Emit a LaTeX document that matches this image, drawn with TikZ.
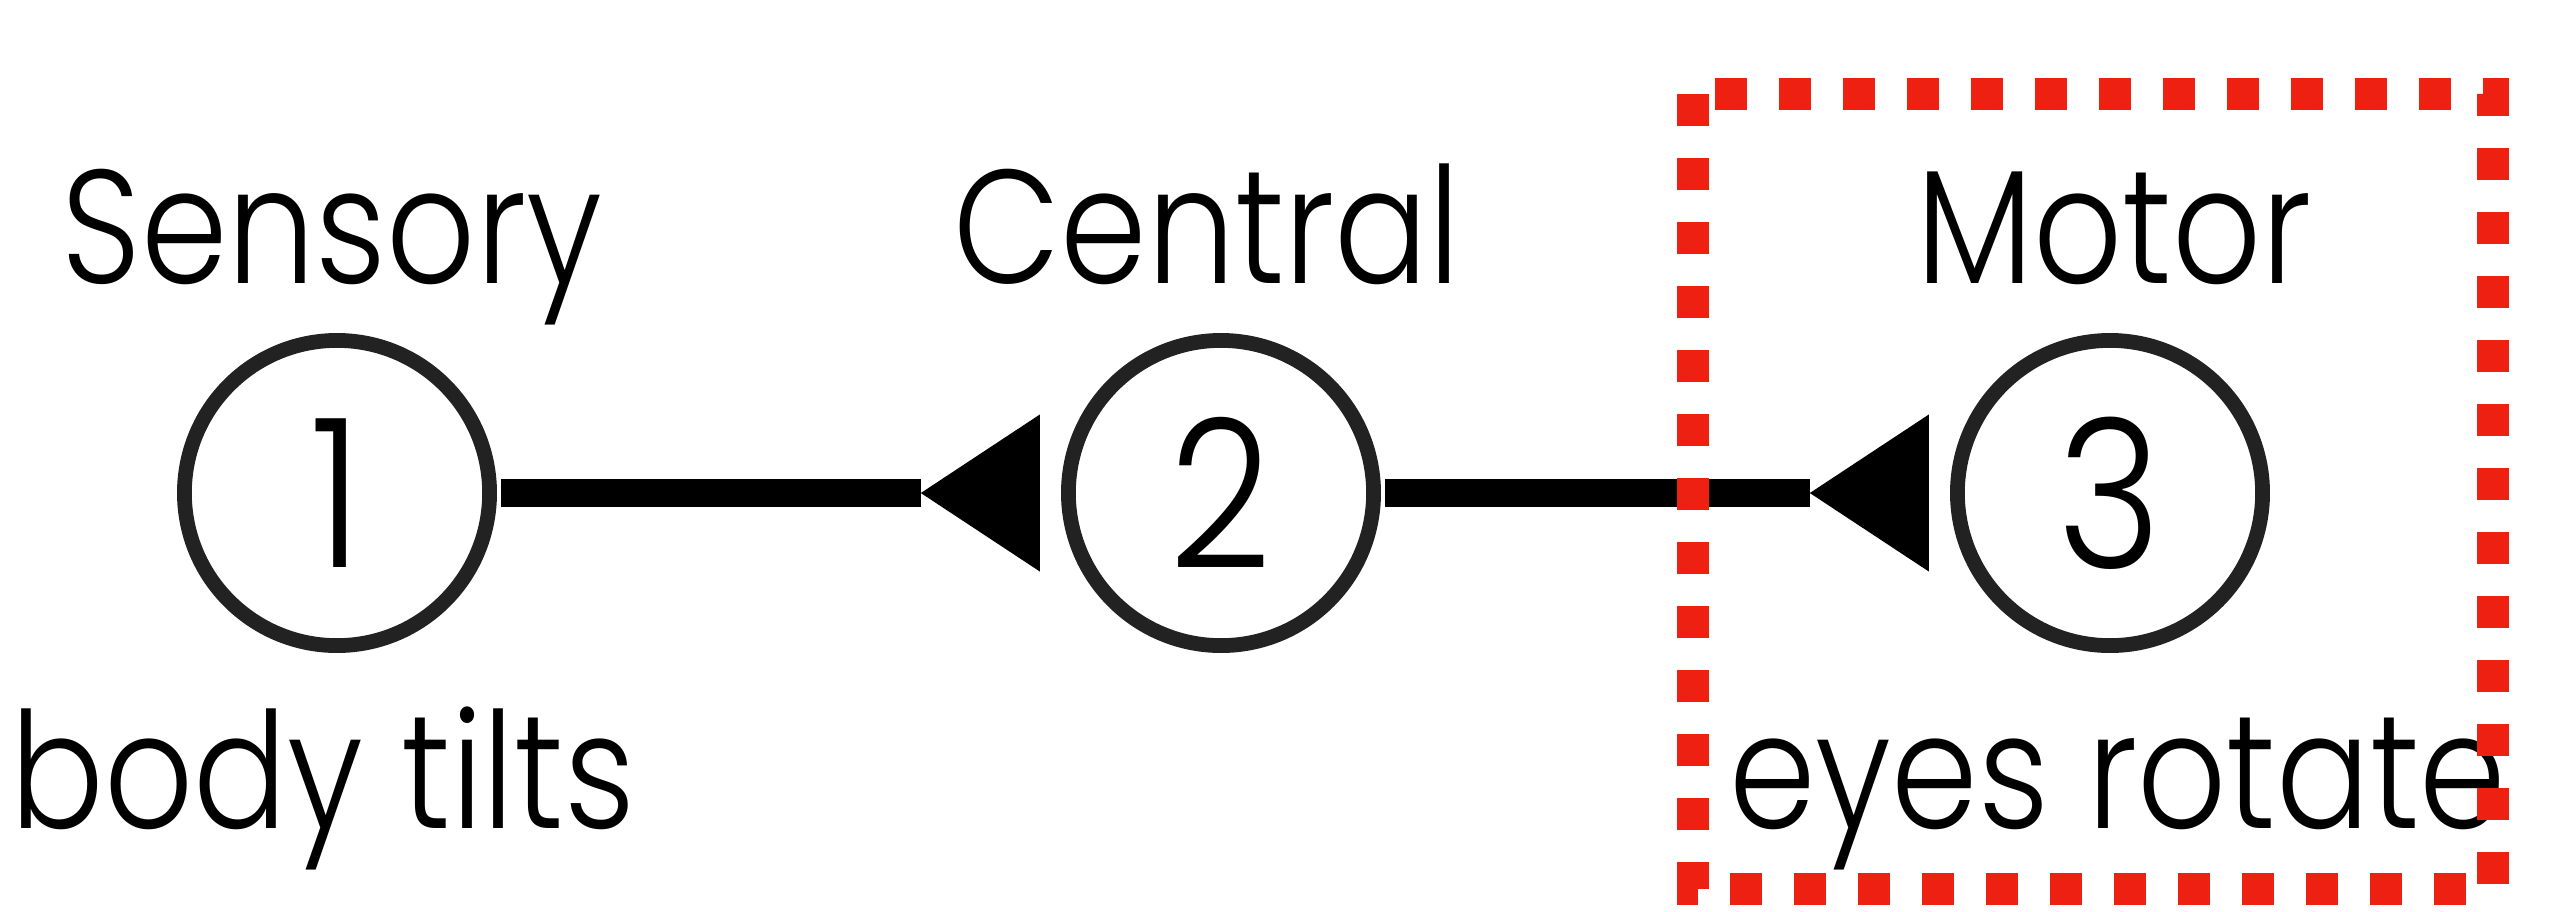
\documentclass[tikz,border=0pt]{standalone}
\usepackage{fontspec}
\setmainfont{Poppins}[UprightFont={* Light}, FakeStretch=0.86]
\usetikzlibrary{arrows.meta}
\definecolor{boxred}{RGB}{237,32,18}
\definecolor{ring}{RGB}{34,34,34}
\begin{document}
\begin{tikzpicture}[x=0.01cm,y=-0.01cm,
  stage/.style={circle, draw=ring, line width=4.2pt, minimum size=3.05cm,
    inner sep=0pt, outer sep=0pt, font=\fontsize{59}{60}\selectfont},
  tag/.style={anchor=base, inner sep=0pt, font=\fontsize{46}{50}\selectfont},
  link/.style={line width=8pt, shorten <=0.11cm, shorten >=0.285cm,
    -{Triangle[reversed, length=1.19cm, width=1.57cm, line width=0pt]}},
  zone/.style={draw=boxred, line width=9.1pt, dash pattern=on 9.1pt off 9.1pt}
]
\useasboundingbox (0,0) rectangle (2550,911);
\fill[white] (0,0) rectangle (2550,911);

% the three stages of the reflex arc
\node[stage] (s1) at (337,493) {1};
\node[stage] (s2) at (1221,493) {2};
\node[stage] (s3) at (2110,493) {3};

\draw[link] (s1) -- (s2);
\draw[link] (s2) -- (s3);

% stage names and events
\node[tag] (n1) at (332,283) {Sensory};
\node[tag] (n2) at (1207,283) {Central};
\node[tag] (n3) at (2114,283) {Motor};
\node[tag] (e1) at (323,828) {body tilts};
\node[tag] (e3) at (2118,828) {eyes rotate};

% highlighted motor stage
\draw[zone] (1693,94) rectangle (2493,889);
\end{tikzpicture}
\end{document}
